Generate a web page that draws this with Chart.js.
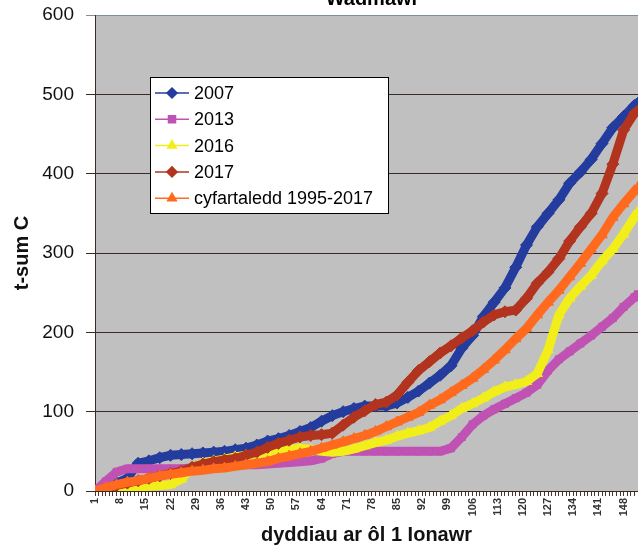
<!DOCTYPE html>
<html>
<head>
<meta charset="utf-8">
<script src="https://cdn.jsdelivr.net/npm/chart.js@4"></script>
<style>
  html, body { margin: 0; background: #fff; overflow: hidden; width: 638px; height: 550px; }
  #wrap { width: 645px; height: 550px; }
</style>
</head>
<body>
<div id="wrap"><canvas id="chartCanvas"></canvas></div>
<script>
// days since 1 January (sampled) and cumulative t-sum values
const days = [1,4,7,10,13,16,19,22,25,28,31,34,37,40,43,46,49,52,55,58,61,64,67,70,73,76,79,82,85,88,91,94,97,100,103,106,109,112,115,118,121,124,127,130,133,136,139,142,145,148,151,152];
const tickDays = [1,8,15,22,29,36,43,50,57,64,71,78,85,92,99,106,113,120,127,134,141,148];

const s2007 = [0,4,10,16,35,38,42,45,46,47,48,49,50,52,54,58,63,66,70,75,80,88,95,100,104,107,107,107,111,118,126,136,146,158,180,196,220,238,256,282,310,333,350,367,388,402,418,438,458,472,486,489];
const s2013 = [0,12,24,28,28,28,28,28,28,29,30,30,31,32,33,33,34,35,36,37,38,41,47,50,50,50,50,50,50,50,50,50,50,54,68,84,95,103,110,117,124,134,152,166,176,186,196,207,218,232,244,248];
const s2016 = [0,1,3,4,5,6,7,8,15,30,35,38,40,43,45,47,49,50,52,54,52,50,49,50,53,57,61,64,69,73,76,80,88,95,104,110,117,125,131,134,138,148,178,222,243,258,272,290,305,324,345,352];
const s2017 = [0,3,7,10,13,16,19,22,25,30,34,37,39,41,45,49,55,60,64,68,70,71,73,83,93,101,109,112,121,137,152,163,174,183,193,202,213,222,226,228,243,262,276,293,315,333,350,375,412,455,476,479];
const sAvg = [0,4,8,11,13,16,19,21,23,25,26,28,29,31,33,35,37,41,44,47,50,54,58,62,66,70,75,81,87,93,99,108,115,124,133,142,153,165,178,192,205,222,238,253,270,287,305,323,345,362,378,383];

const seriesNames = ['2007', '2013', '2016', '2017', 'cyfartaledd 1995-2017'];
const seriesColors = ['#233C9E', '#C052B4', '#F2EE1A', '#B2341F', '#FF6A1E'];
const seriesMarkers = ['rectRot', 'rect', 'triangle', 'rectRot', 'triangle'];
const seriesValues = [s2007, s2013, s2016, s2017, sAvg];

const FONT = 'Liberation Sans, Arial, sans-serif';

const bgPlugin = {
    id: 'plotBg',
    beforeDraw(chart) {
        const {ctx, chartArea: a} = chart;
        ctx.save();
        ctx.fillStyle = '#C0C0C0';
        ctx.fillRect(a.left, a.top, a.right - a.left, a.bottom - a.top);
        ctx.restore();
    }
};

const boxLegend = {
    id: 'boxLegend',
    afterDraw(chart) {
        const ctx = chart.ctx;
        const a = chart.chartArea;
        ctx.save();
        // title, mostly cut off by the top edge
        ctx.fillStyle = '#000';
        ctx.font = 'bold 20px ' + FONT;
        ctx.textAlign = 'center';
        ctx.textBaseline = 'alphabetic';
        ctx.fillText('Wadmawr', (a.left + a.right) / 2 + 6, 5);

        // legend box inside the plot
        ctx.fillStyle = '#fff';
        ctx.fillRect(150, 77, 238, 136);
        ctx.strokeStyle = '#000';
        ctx.lineWidth = 1;
        ctx.strokeRect(150.5, 77.5, 238, 136);
        ctx.font = '18px ' + FONT;
        ctx.textAlign = 'left';
        ctx.textBaseline = 'middle';
        seriesNames.forEach((name, i) => {
            const y = 93 + i * 26.3;
            ctx.strokeStyle = seriesColors[i];
            ctx.lineWidth = 1.5;
            ctx.beginPath();
            ctx.moveTo(155, y);
            ctx.lineTo(189, y);
            ctx.stroke();
            ctx.fillStyle = seriesColors[i];
            Chart.helpers.drawPoint(ctx, {pointStyle: seriesMarkers[i], radius: 5, rotation: 0, borderWidth: 1}, 172, y);
            ctx.fillStyle = '#000';
            ctx.fillText(name, 194, y + 1);
        });
        ctx.restore();
    }
};

const datasets = seriesValues.map((vals, i) => ({
    label: seriesNames[i],
    data: days.map((d, j) => ({x: d, y: vals[j]})),
    borderColor: seriesColors[i],
    backgroundColor: seriesColors[i],
    pointBackgroundColor: seriesColors[i],
    pointBorderColor: seriesColors[i],
    pointStyle: seriesMarkers[i],
    pointRadius: seriesMarkers[i] === 'rect' ? 5 : 6,
    pointBorderWidth: 1,
    borderWidth: 9,
    tension: 0,
    order: 5 - i
}));

let ctx = document.getElementById('chartCanvas').getContext('2d');
let chart = new Chart(ctx, {
    type: 'line',
    data: { datasets: datasets },
    plugins: [bgPlugin, boxLegend],
    options: {
        responsive: true,
        maintainAspectRatio: false,
        animation: false,
        layout: { padding: { top: 15, right: 0, left: 0, bottom: 0 } },
        plugins: { legend: { display: false }, tooltip: { enabled: false } },
        scales: {
            x: {
                type: 'linear',
                min: 1,
                max: 152,
                afterFit: s => { s.height = 59; s.paddingLeft = 0; s.paddingRight = 0; },
                ticks: {
                    stepSize: 1,
                    autoSkip: false,
                    maxRotation: 90,
                    minRotation: 90,
                    padding: 2,
                    color: '#333',
                    font: { family: FONT, size: 11, weight: 'bold' },
                    callback: v => tickDays.includes(v) ? String(v) : ''
                },
                grid: { drawOnChartArea: false, tickLength: 5, color: '#4a3530' },
                border: { display: true, color: '#3b2b25' },
                title: {
                    display: true,
                    text: 'dyddiau ar ôl 1 Ionawr',
                    color: '#111',
                    font: { family: FONT, size: 20, weight: 'bold' },
                    padding: { top: 0, bottom: 3 }
                }
            },
            y: {
                min: 0,
                max: 600,
                afterFit: s => { s.width = 95; s.paddingTop = 0; s.paddingBottom = 0; },
                ticks: {
                    stepSize: 100,
                    padding: 12,
                    color: '#111',
                    font: { family: FONT, size: 19 }
                },
                grid: {
                    tickLength: 9,
                    lineWidth: 1,
                    color: c => c.tick && c.tick.value === 600 ? '#7f8f99' : '#3b2b25'
                },
                border: { display: true, color: '#3b2b25' },
                title: {
                    display: true,
                    text: 't-sum C',
                    color: '#111',
                    font: { family: FONT, size: 20, weight: 'bold' },
                    padding: { top: 10, bottom: 0 }
                }
            }
        }
    }
});
</script>
</body>
</html>
